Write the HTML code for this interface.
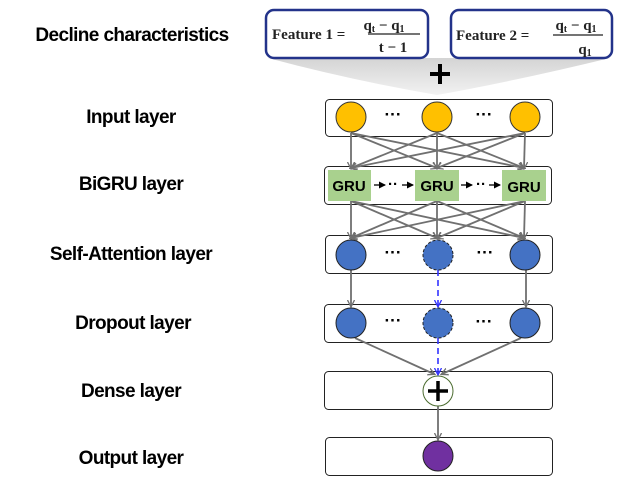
<!DOCTYPE html>
<html><head><meta charset="utf-8"><style>
html,body{margin:0;padding:0;background:#fff;}
svg{display:block;}
.l{font-family:"Liberation Sans",sans-serif;font-weight:bold;font-size:19px;fill:#000;text-anchor:middle;letter-spacing:-0.6px}
.f{font-family:"Liberation Serif",serif;font-weight:bold;font-size:15px;fill:#222}
.g{font-family:"Liberation Sans",sans-serif;font-weight:bold;font-size:15px;fill:#000;text-anchor:middle}
</style></head><body>
<svg width="636" height="483" viewBox="0 0 636 483" xmlns="http://www.w3.org/2000/svg">
<defs>
<marker id="a" markerWidth="8" markerHeight="8" refX="6" refY="4" orient="auto" markerUnits="userSpaceOnUse"><path d="M0,0.5 L7,4 L0,7.5" fill="none" stroke="#707070" stroke-width="1.3"/></marker>
<marker id="b" markerWidth="8" markerHeight="8" refX="6" refY="4" orient="auto" markerUnits="userSpaceOnUse"><path d="M0,0.5 L7,4 L0,7.5" fill="none" stroke="#3333ff" stroke-width="1.3"/></marker>
<marker id="k" markerWidth="7" markerHeight="7" refX="6" refY="3.5" orient="auto" markerUnits="userSpaceOnUse"><path d="M0,0 L7,3.5 L0,7z" fill="#000"/></marker>
<linearGradient id="fg" x1="0" y1="0" x2="0" y2="1"><stop offset="0" stop-color="#d4d4d4"/><stop offset="1" stop-color="#f2f2f2"/></linearGradient>
</defs>
<text class="l" x="132" y="41">Decline characteristics</text>
<text class="l" x="131" y="123">Input layer</text>
<text class="l" x="131" y="190">BiGRU layer</text>
<text class="l" x="131" y="260">Self-Attention layer</text>
<text class="l" x="133" y="329">Dropout layer</text>
<text class="l" x="131" y="397">Dense layer</text>
<text class="l" x="131" y="464">Output layer</text>

<path d="M268,58 L610,58 Q520,80 437,95 Q350,80 268,58z" fill="url(#fg)"/>
<rect x="266" y="10" width="162" height="48" rx="8" fill="#fff" stroke="#23338a" stroke-width="2.5"/>
<rect x="451" y="10" width="161" height="48" rx="8" fill="#fff" stroke="#23338a" stroke-width="2.5"/>
<text class="f" x="272" y="39">Feature 1 =</text>
<text class="f" x="384" y="30" text-anchor="middle">q<tspan font-size="10" dy="2">t</tspan><tspan dy="-2"> − q</tspan><tspan font-size="10" dy="2">1</tspan></text>
<line x1="368" y1="34" x2="420" y2="34" stroke="#222" stroke-width="1.3"/>
<text class="f" x="393" y="52" text-anchor="middle">t − 1</text>
<text class="f" x="456" y="40">Feature 2 =</text>
<text class="f" x="576" y="30" text-anchor="middle">q<tspan font-size="10" dy="2">t</tspan><tspan dy="-2"> − q</tspan><tspan font-size="10" dy="2">1</tspan></text>
<line x1="553" y1="35" x2="603" y2="35" stroke="#222" stroke-width="1.3"/>
<text class="f" x="585" y="54" text-anchor="middle">q<tspan font-size="10" dy="2">1</tspan></text>
<path d="M440,64 V84 M430,74 H450" stroke="#000" stroke-width="4"/>

<g fill="#fff" stroke="#222" stroke-width="1">
<rect x="325.5" y="99.5" width="227" height="37" rx="4"/>
<rect x="324.5" y="166.5" width="227" height="38" rx="4"/>
<rect x="325.5" y="235.5" width="227" height="38" rx="4"/>
<rect x="324.5" y="304.5" width="228" height="38" rx="4"/>
<rect x="324.5" y="371.5" width="228" height="38" rx="4"/>
<rect x="325.5" y="437.5" width="227" height="38" rx="4"/>
</g>

<g stroke="#707070" stroke-width="1.8" marker-end="url(#a)">
<line x1="351" y1="133" x2="351" y2="168"/><line x1="351" y1="133" x2="437" y2="168"/><line x1="351" y1="133" x2="524" y2="168"/>
<line x1="437" y1="133" x2="351" y2="168"/><line x1="437" y1="133" x2="437" y2="168"/><line x1="437" y1="133" x2="524" y2="168"/>
<line x1="525" y1="133" x2="351" y2="168"/><line x1="525" y1="133" x2="437" y2="168"/><line x1="525" y1="133" x2="524" y2="168"/>
<line x1="351" y1="201" x2="351" y2="238"/><line x1="351" y1="201" x2="437" y2="238"/><line x1="351" y1="201" x2="524" y2="238"/>
<line x1="437" y1="201" x2="351" y2="238"/><line x1="437" y1="201" x2="437" y2="238"/><line x1="437" y1="201" x2="524" y2="238"/>
<line x1="525" y1="201" x2="351" y2="238"/><line x1="525" y1="201" x2="437" y2="238"/><line x1="525" y1="201" x2="524" y2="238"/>
<line x1="351" y1="270" x2="351" y2="306"/><line x1="526" y1="270" x2="526" y2="306"/>
<line x1="355" y1="338" x2="434" y2="374"/><line x1="521" y1="338" x2="442" y2="374"/>
<line x1="438" y1="406" x2="438" y2="439"/>
</g>
<g stroke="#3333ff" stroke-width="1.6" stroke-dasharray="6,4" marker-end="url(#b)">
<line x1="438" y1="270" x2="438" y2="306"/><line x1="438" y1="338" x2="438" y2="374"/>
</g>

<g fill="#ffc000" stroke="#333" stroke-width="1">
<circle cx="351" cy="117" r="15"/><circle cx="437" cy="117" r="15"/><circle cx="525" cy="117" r="15"/>
</g>
<g fill="#a9d18e">
<rect x="328" y="170" width="43" height="31"/><rect x="415" y="170" width="44" height="31"/><rect x="502" y="170" width="44" height="31"/>
</g>
<text class="g" x="349" y="191">GRU</text><text class="g" x="437" y="191">GRU</text><text class="g" x="524" y="192">GRU</text>
<g stroke="#000" stroke-width="1.3" marker-end="url(#k)">
<line x1="374" y1="185" x2="385" y2="185"/><line x1="402" y1="185" x2="413" y2="185"/>
<line x1="461" y1="185" x2="472" y2="185"/><line x1="489" y1="185" x2="500" y2="185"/>
</g>
<text x="393" y="189" font-size="15" font-weight="bold" text-anchor="middle" font-family="Liberation Sans">··</text>
<text x="481" y="189" font-size="15" font-weight="bold" text-anchor="middle" font-family="Liberation Sans">··</text>

<g fill="#4472c4" stroke="#222" stroke-width="1">
<circle cx="351" cy="255" r="15"/><circle cx="525" cy="255" r="15"/>
<circle cx="351" cy="323" r="15"/><circle cx="525" cy="323" r="15"/>
</g>
<g fill="#4472c4" stroke="#222" stroke-width="1" stroke-dasharray="3,2">
<circle cx="438" cy="255" r="15"/><circle cx="438" cy="323" r="15"/>
</g>
<g font-family="Liberation Sans" font-size="17" font-weight="bold" text-anchor="middle" fill="#000">
<text x="393" y="120">···</text><text x="484" y="120">···</text>
<text x="393" y="258">···</text><text x="485" y="258">···</text>
<text x="393" y="326">···</text><text x="484" y="327">···</text>
</g>
<circle cx="438" cy="391" r="15" fill="#fff" stroke="#4a6b2e" stroke-width="1"/>
<path d="M438,381 V401 M428,391 H448" stroke="#000" stroke-width="3.5"/>
<circle cx="438" cy="456" r="15" fill="#7030a0" stroke="#222" stroke-width="1"/>
</svg>
</body></html>
